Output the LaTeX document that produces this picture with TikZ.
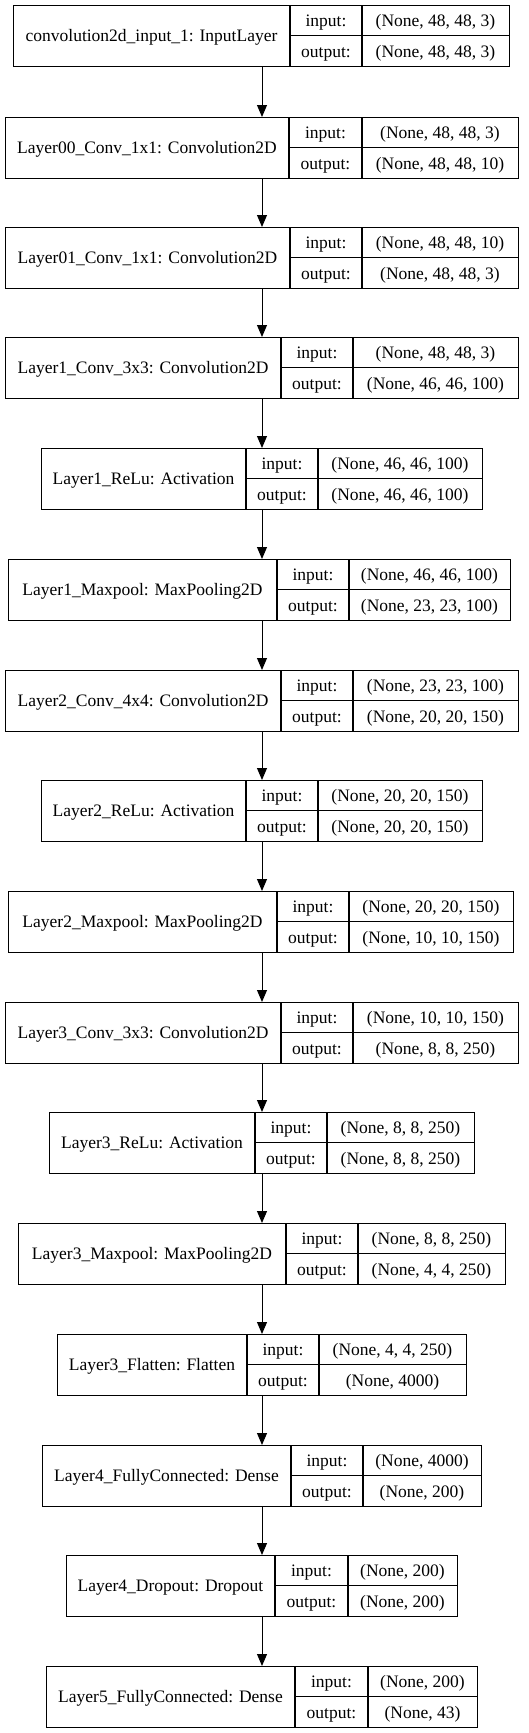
\documentclass[tikz,border=0pt]{standalone}
\usepackage{fontspec}
\setmainfont{Liberation Serif}
\usetikzlibrary{arrows.meta}
\newcommand{\kerasbox}[9]{%
  \node[layerbox, minimum width={(#4-#3)*1pt}, anchor=north west] (#1) at (#3,#2) {};
  \draw[lyline] (#5,#2) -- (#5,#2+61);
  \draw[lyline] (#6,#2) -- (#6,#2+61);
  \draw[lyline] (#5,#2+30.5) -- (#4,#2+30.5);
  \node[lytext] (#1-name) at ({(#3+#5)/2},#2+36.5) {#7};
  \node[lytext] (#1-inl) at ({(#5+#6)/2},#2+21.5) {input:};
  \node[lytext] (#1-outl) at ({(#5+#6)/2},#2+52) {output:};
  \node[lytext] (#1-in) at ({(#6+#4)/2},#2+21.5) {#8};
  \node[lytext] (#1-out) at ({(#6+#4)/2},#2+52) {#9};
}
\begin{document}
\begin{tikzpicture}[x=1pt,y=-1pt,
  layerbox/.style={draw, rectangle, line width=1.1pt, minimum height=61pt, inner sep=0pt},
  lyline/.style={line width=1.1pt},
  lytext/.style={anchor=base, inner sep=0pt, font=\fontsize{17.5}{20}\selectfont},
  arr/.style={line width=1pt, -{Triangle[length=12pt,width=10pt]}}]
\useasboundingbox (0,0) rectangle (529,1733);
\fill[white] (0,0) rectangle (529,1733);
\kerasbox{b1}{5}{13}{509}{290}{362}{convolution2d\_input\_1: InputLayer}{(None, 48, 48, 3)}{(None, 48, 48, 3)}
\kerasbox{b2}{117}{5}{518}{289}{362}{Layer00\_Conv\_1x1: Convolution2D}{(None, 48, 48, 3)}{(None, 48, 48, 10)}
\kerasbox{b3}{227}{5}{518}{290}{362}{Layer01\_Conv\_1x1: Convolution2D}{(None, 48, 48, 10)}{(None, 48, 48, 3)}
\kerasbox{b4}{337}{5}{518}{281}{353}{Layer1\_Conv\_3x3: Convolution2D}{(None, 48, 48, 3)}{(None, 46, 46, 100)}
\kerasbox{b5}{448}{41}{482}{246}{318}{Layer1\_ReLu: Activation}{(None, 46, 46, 100)}{(None, 46, 46, 100)}
\kerasbox{b6}{559}{8}{510}{277}{349}{Layer1\_Maxpool: MaxPooling2D}{(None, 46, 46, 100)}{(None, 23, 23, 100)}
\kerasbox{b7}{670}{5}{518}{281}{353}{Layer2\_Conv\_4x4: Convolution2D}{(None, 23, 23, 100)}{(None, 20, 20, 150)}
\kerasbox{b8}{780}{41}{482}{246}{318}{Layer2\_ReLu: Activation}{(None, 20, 20, 150)}{(None, 20, 20, 150)}
\kerasbox{b9}{891}{8}{513}{277}{349}{Layer2\_Maxpool: MaxPooling2D}{(None, 20, 20, 150)}{(None, 10, 10, 150)}
\kerasbox{b10}{1002}{5}{518}{281}{353}{Layer3\_Conv\_3x3: Convolution2D}{(None, 10, 10, 150)}{(None, 8, 8, 250)}
\kerasbox{b11}{1112}{49}{474}{255}{327}{Layer3\_ReLu: Activation}{(None, 8, 8, 250)}{(None, 8, 8, 250)}
\kerasbox{b12}{1223}{18}{505}{286}{358}{Layer3\_Maxpool: MaxPooling2D}{(None, 8, 8, 250)}{(None, 4, 4, 250)}
\kerasbox{b13}{1334}{57}{466}{247}{319}{Layer3\_Flatten: Flatten}{(None, 4, 4, 250)}{(None, 4000)}
\kerasbox{b14}{1445}{42}{481}{291}{363}{Layer4\_FullyConnected: Dense}{(None, 4000)}{(None, 200)}
\kerasbox{b15}{1555}{66}{457}{275}{348}{Layer4\_Dropout: Dropout}{(None, 200)}{(None, 200)}
\kerasbox{b16}{1666}{46}{477}{295}{368}{Layer5\_FullyConnected: Dense}{(None, 200)}{(None, 43)}
\coordinate (ax) at (262,0);
\foreach \a/\b in {b1/b2,b2/b3,b3/b4,b4/b5,b5/b6,b6/b7,b7/b8,b8/b9,b9/b10,b10/b11,b11/b12,b12/b13,b13/b14,b14/b15,b15/b16}
  \draw[arr] (\a.south -| ax) -- (\b.north -| ax);
\end{tikzpicture}
\end{document}
